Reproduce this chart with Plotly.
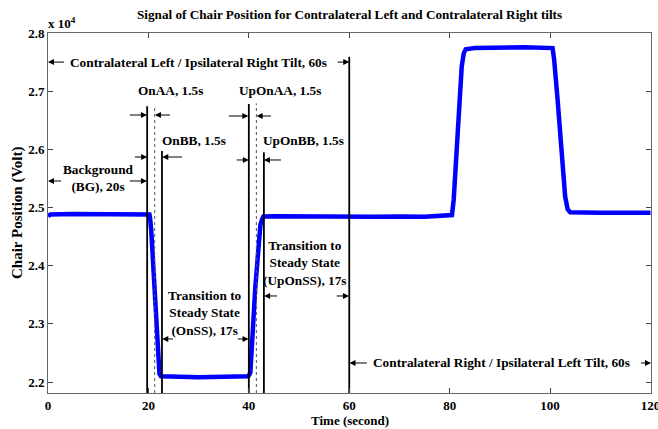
import plotly.graph_objects as go

# ---- data ----
signal_time = [0, 0.5, 5, 10, 15, 19.5, 20.2, 20.35, 20.56, 21.13, 21.6, 21.98, 22.2, 22.5,
               25, 30, 35, 39.9, 40.05, 40.3, 41.3, 41.95, 42.3, 42.6, 42.9,
               45, 50, 55, 60, 65, 70, 75, 80.45, 80.8, 81.6, 82.4, 82.8, 83.2,
               85, 90, 95, 100.5, 100.8, 101.5, 102.3, 103.0, 103.5, 104, 110, 115, 120]
signal_value = [24850, 24880, 24890, 24885, 24885, 24890, 24880, 24800, 24610, 23750, 22890, 22260, 22140, 22100,
                22090, 22080, 22090, 22100, 22120, 22160, 23640, 24440, 24700, 24790, 24845,
                24850, 24845, 24840, 24845, 24840, 24845, 24840, 24870, 25130, 26280, 27420, 27650, 27720,
                27740, 27745, 27755, 27740, 27550, 26850, 25990, 25190, 24970, 24920, 24910, 24905, 24910]

marker_time = [19.75, 21.25, 22.7, 40.0, 41.5, 43.0, 60.0]
marker_top = [26740, 26720, 25970, 26780, 26790, 25950, 27590]
marker_dotted = [False, True, False, False, True, False, False]

label_text = [
    "Contralateral Left / Ipsilateral Right Tilt, 60s",
    "OnAA, 1.5s",
    "OnBB, 1.5s",
    "UpOnAA, 1.5s",
    "UpOnBB, 1.5s",
    "Background<br>(BG), 20s",
    "Transition to<br>Steady State<br>(OnSS), 17s",
    "Transition to<br>Steady State<br>(UpOnSS), 17s",
    "Contralateral Right / Ipsilateral Left Tilt, 60s",
]
label_x = [30.0, 24.4, 29.0, 46.3, 50.8, 10.05, 31.3, 51.2, 90.4]
label_y = [27500, 27003, 26160, 27003, 26160, 25507, 23187, 24046, 22327]

# arrows: (head x, tail x, y)
arrow_head = [0.0, 60.0, 19.7, 21.3, 19.75, 22.75, 39.9, 41.55, 40.0, 43.0,
              0.0, 19.7, 22.75, 39.95, 43.05, 59.95, 60.05, 120.1]
arrow_tail = [3.5, 57.4, 16.0, 24.6, 17.0, 27.0, 35.7, 44.7, 37.3, 46.7,
              2.9, 16.0, 25.2, 37.5, 45.9, 57.2, 63.8, 117.8]
arrow_y = [27500, 27500, 26590, 26590, 25868, 25868, 26573, 26573, 25817, 25817,
           25456, 25456, 22740, 22740, 23479, 23479, 22327, 22327]

x_ticks = [0, 20, 40, 60, 80, 100, 120]
y_ticks = [22000, 23000, 24000, 25000, 26000, 27000, 28000]
y_tick_text = ["2.2", "2.3", "2.4", "2.5", "2.6", "2.7", "2.8"]

title_text = "Signal of Chair Position for Contralateral Left and Contralateral Right tilts"
x_title = "Time (second)"
y_title = "Chair Position (Volt)"

# ---- figure ----
Y_MIN, Y_MAX = 21811, 28000
X_MIN, X_MAX = 0, 120.1
FONT = "Liberation Serif"
TXT = 13.3

fig = go.Figure()

fig.add_trace(go.Scatter(x=signal_time, y=signal_value, mode="lines",
                         line=dict(color="#0000ff", width=4.5), hoverinfo="skip"))

for t, top, dotted in zip(marker_time, marker_top, marker_dotted):
    if dotted:
        line = dict(color="#555555", width=1, dash="dot")
    else:
        line = dict(color="black", width=1.8)
    fig.add_trace(go.Scatter(x=[t, t], y=[Y_MIN, top], mode="lines", line=line,
                             hoverinfo="skip"))

for txt, x, y in zip(label_text, label_x, label_y):
    fig.add_annotation(x=x, y=y, xref="x", yref="y", text=txt, showarrow=False,
                       font=dict(family=FONT, size=TXT, color="black", weight="bold"),
                       align="center", xanchor="center", yanchor="middle")

for hx, tx, y in zip(arrow_head, arrow_tail, arrow_y):
    fig.add_annotation(x=hx, y=y, ax=tx, ay=y, xref="x", yref="y", axref="x", ayref="y",
                       text="", showarrow=True, arrowhead=2, arrowsize=1.2,
                       arrowwidth=1, arrowcolor="black", standoff=0)

# title, multiplier, axis titles
fig.add_annotation(x=0.5, y=1, xref="paper", yref="paper", yshift=19, text=title_text,
                   showarrow=False, xanchor="center", yanchor="middle",
                   font=dict(family=FONT, size=13.2, color="black", weight="bold"))
fig.add_annotation(x=0, y=1, xref="paper", yref="paper", yshift=10, xshift=-2,
                   text="x 10<sup>4</sup>", showarrow=False, xanchor="left", yanchor="middle",
                   font=dict(family=FONT, size=13, color="black", weight="bold"))
fig.add_annotation(x=0.5, y=0, xref="paper", yref="paper", yshift=-27, text=x_title,
                   showarrow=False, xanchor="center", yanchor="middle",
                   font=dict(family=FONT, size=13, color="black", weight="bold"))
fig.add_annotation(x=0, y=0.5, xref="paper", yref="paper", xshift=-31, text=y_title,
                   showarrow=False, xanchor="center", yanchor="middle", textangle=-90,
                   font=dict(family=FONT, size=15, color="black", weight="bold"))

axis_common = dict(showgrid=False, zeroline=False, ticks="inside", ticklen=5,
                   tickcolor="#444444", showline=True, linecolor="#666666", linewidth=1,
                   mirror="ticks", automargin=False, ticklabeloverflow="allow",
                   tickfont=dict(family=FONT, size=13, color="black", weight="bold"))

fig.update_xaxes(range=[X_MIN, X_MAX], tickvals=x_ticks, **axis_common)
fig.update_yaxes(range=[Y_MIN, Y_MAX], tickvals=y_ticks, ticktext=y_tick_text, **axis_common)

fig.update_layout(width=658, height=429, margin=dict(l=48, r=7, t=33, b=36, autoexpand=False),
                  paper_bgcolor="white", plot_bgcolor="white", showlegend=False,
                  template="none")

fig.write_html("out.html", config={"displayModeBar": False},
               post_script="document.body.style.margin='0';")
